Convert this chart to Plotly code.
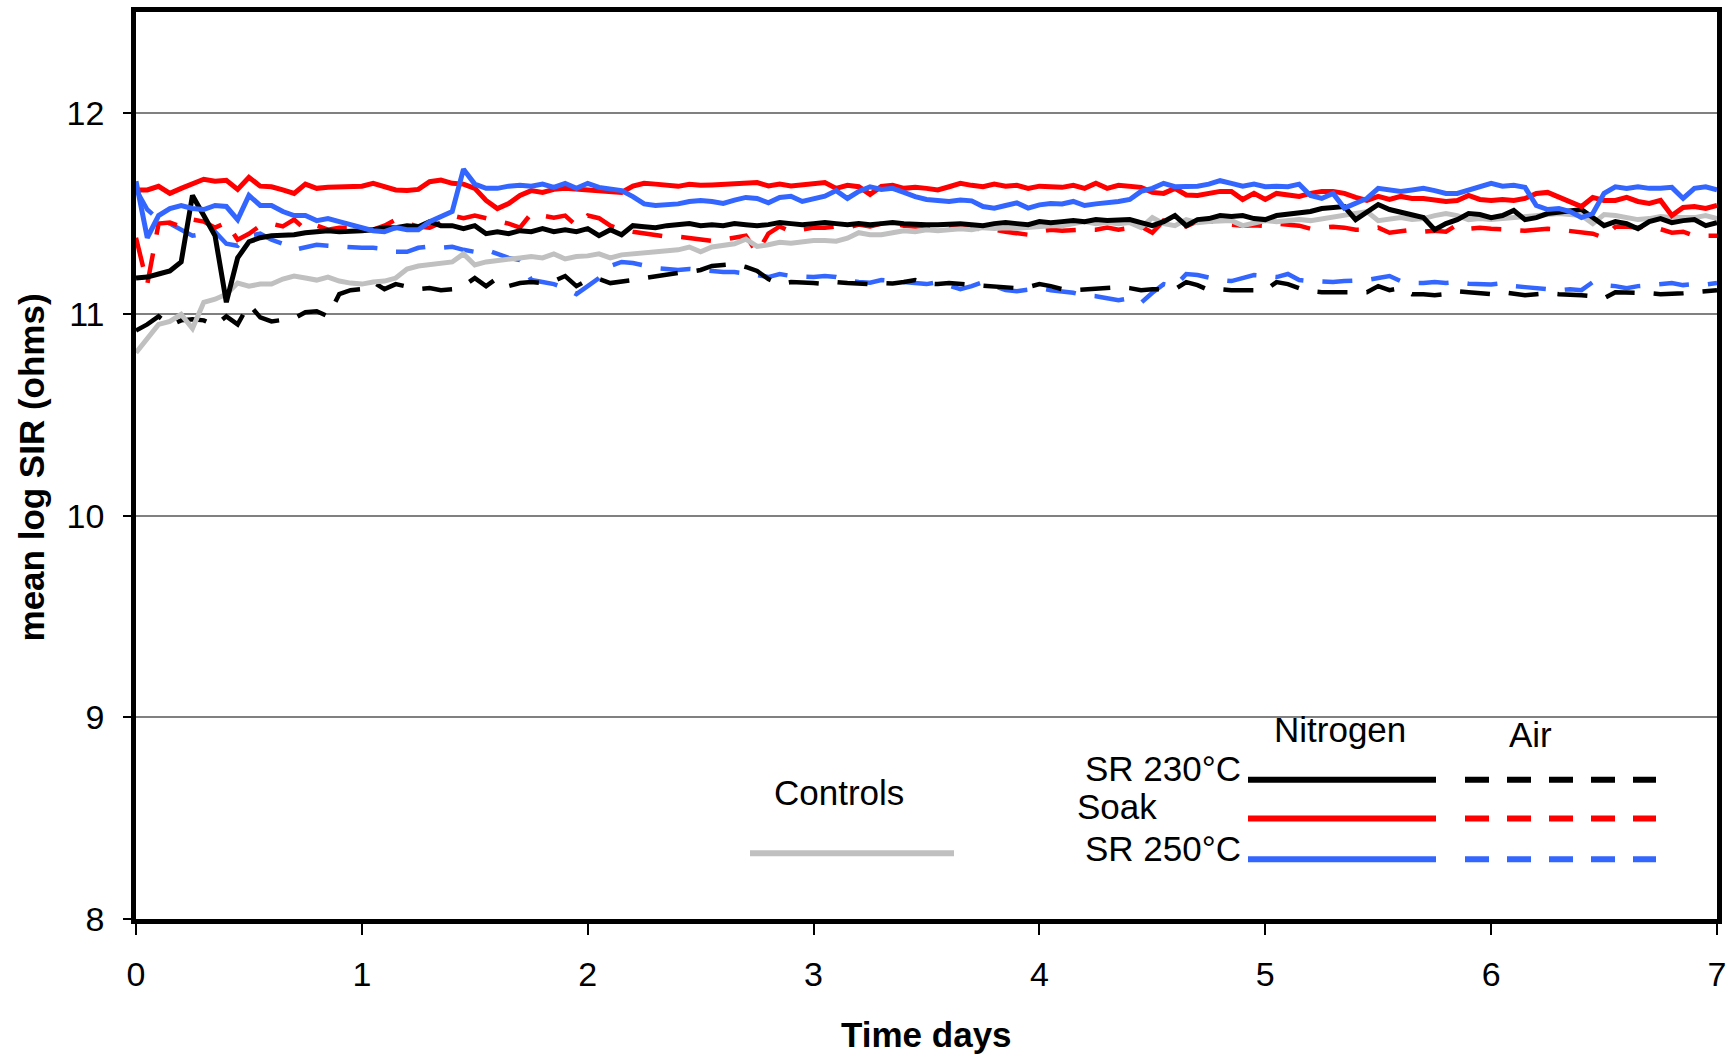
import plotly.graph_objects as go

# Readings were logged every 0.05 day over the 7-day exposure
DAYS = [round(i * 0.05, 2) for i in range(141)]

# mean log SIR (ohms) per condition, one row per ~1.15-day block
SR230_N2 = (
    [11.18, 11.185, 11.20, 11.215, 11.26, 11.59, 11.49, 11.39, 11.06, 11.28, 11.36, 11.38,
     11.39, 11.39, 11.395, 11.405, 11.41, 11.415, 11.41, 11.41, 11.415, 11.42, 11.43, 11.43]
    + [11.44, 11.435, 11.46, 11.44, 11.44, 11.425, 11.44, 11.40, 11.41, 11.40, 11.415, 11.41,
       11.425, 11.41, 11.42, 11.41, 11.425, 11.39, 11.42, 11.395, 11.44, 11.435, 11.43]
    + [11.44, 11.445, 11.45, 11.44, 11.445, 11.44, 11.45, 11.445, 11.44, 11.445, 11.455, 11.45,
       11.445, 11.45, 11.455, 11.45, 11.445, 11.45, 11.445, 11.45, 11.455, 11.45, 11.445, 11.445]
    + [11.445, 11.45, 11.45, 11.445, 11.44, 11.45, 11.455, 11.45, 11.445, 11.46, 11.455, 11.46,
       11.465, 11.46, 11.47, 11.465, 11.47, 11.47, 11.455, 11.44, 11.46, 11.49, 11.44]
    + [11.47, 11.475, 11.49, 11.485, 11.49, 11.475, 11.47, 11.49, 11.495, 11.50, 11.51, 11.525,
       11.53, 11.535, 11.47, 11.51, 11.545, 11.52, 11.505, 11.495, 11.48, 11.42, 11.45, 11.47]
    + [11.50, 11.495, 11.48, 11.49, 11.515, 11.47, 11.48, 11.50, 11.505, 11.515, 11.52, 11.48,
       11.44, 11.46, 11.45, 11.425, 11.46, 11.475, 11.455, 11.465, 11.47, 11.44, 11.455]
)

SR230_AIR = (
    [10.92, 10.95, 10.99, 10.945, 10.97, 10.975, 10.97, 10.945, 10.99, 10.95, 11.05, 10.985,
     10.965, 10.97, 10.98, 11.01, 11.015, 10.99, 11.10, 11.12, 11.125, 11.16, 11.125, 11.15]
    + [11.14, 11.125, 11.13, 11.12, 11.125, 11.14, 11.18, 11.14, 11.18, 11.14, 11.155, 11.16,
       11.155, 11.165, 11.19, 11.14, 11.17, 11.175, 11.155, 11.16, 11.17, 11.18, 11.19]
    + [11.20, 11.205, 11.21, 11.22, 11.24, 11.245, 11.25, 11.235, 11.215, 11.175, 11.15, 11.16,
       11.16, 11.155, 11.15, 11.16, 11.155, 11.15, 11.15, 11.155, 11.153, 11.16, 11.17, 11.153]
    + [11.15, 11.155, 11.15, 11.148, 11.14, 11.14, 11.135, 11.13, 11.135, 11.15, 11.14, 11.125,
       11.12, 11.125, 11.13, 11.13, 11.135, 11.13, 11.12, 11.125, 11.125, 11.125, 11.16]
    + [11.145, 11.12, 11.125, 11.12, 11.12, 11.12, 11.12, 11.16, 11.15, 11.13, 11.115, 11.11,
       11.108, 11.11, 11.11, 11.11, 11.14, 11.12, 11.13, 11.10, 11.10, 11.095, 11.10, 11.115]
    + [11.11, 11.105, 11.10, 11.11, 11.105, 11.095, 11.10, 11.105, 11.10, 11.10, 11.095, 11.09,
       11.08, 11.11, 11.11, 11.11, 11.105, 11.10, 11.10, 11.105, 11.11, 11.115, 11.12]
)

SOAK_N2 = (
    [11.617, 11.617, 11.635, 11.60, 11.625, 11.65, 11.67, 11.66, 11.665, 11.62, 11.68, 11.636,
     11.633, 11.617, 11.60, 11.646, 11.625, 11.63, 11.633, 11.636, 11.636, 11.65, 11.636, 11.617]
    + [11.614, 11.62, 11.658, 11.666, 11.65, 11.646, 11.625, 11.565, 11.525, 11.55, 11.59, 11.614,
       11.605, 11.62, 11.625, 11.62, 11.614, 11.614, 11.61, 11.605, 11.636, 11.65, 11.646]
    + [11.64, 11.635, 11.645, 11.64, 11.642, 11.645, 11.643, 11.646, 11.654, 11.637, 11.646, 11.637,
       11.643, 11.646, 11.654, 11.625, 11.64, 11.633, 11.595, 11.635, 11.64, 11.625, 11.63, 11.625]
    + [11.617, 11.633, 11.65, 11.64, 11.633, 11.646, 11.636, 11.64, 11.625, 11.636, 11.633, 11.63,
       11.64, 11.625, 11.65, 11.625, 11.64, 11.636, 11.63, 11.605, 11.60, 11.625, 11.592]
    + [11.59, 11.60, 11.61, 11.61, 11.57, 11.60, 11.57, 11.60, 11.59, 11.585, 11.60, 11.61,
       11.61, 11.60, 11.58, 11.565, 11.585, 11.57, 11.585, 11.575, 11.575, 11.565, 11.56, 11.565]
    + [11.59, 11.57, 11.565, 11.57, 11.565, 11.575, 11.60, 11.605, 11.58, 11.56, 11.535, 11.58,
       11.565, 11.565, 11.58, 11.56, 11.55, 11.565, 11.49, 11.53, 11.535, 11.525, 11.54]
)

SOAK_AIR = (
    [11.38, 11.15, 11.45, 11.455, 11.436, 11.47, 11.46, 11.43, 11.455, 11.37, 11.40, 11.44,
     11.45, 11.436, 11.47, 11.42, 11.44, 11.42, 11.43, 11.43, 11.42, 11.42, 11.44, 11.47]
    + [11.45, 11.436, 11.43, 11.455, 11.49, 11.477, 11.49, 11.477, 11.465, 11.45, 11.43, 11.50,
       11.49, 11.48, 11.49, 11.44, 11.49, 11.477, 11.44, 11.42, 11.41, 11.40, 11.39]
    + [11.385, 11.385, 11.38, 11.375, 11.365, 11.37, 11.38, 11.39, 11.305, 11.40, 11.436, 11.41,
       11.42, 11.43, 11.43, 11.436, 11.43, 11.445, 11.436, 11.45, 11.455, 11.44, 11.436, 11.44]
    + [11.436, 11.44, 11.43, 11.43, 11.42, 11.42, 11.41, 11.405, 11.395, 11.41, 11.42, 11.415,
       11.42, 11.42, 11.42, 11.43, 11.42, 11.43, 11.436, 11.405, 11.465, 11.45, 11.436]
    + [11.462, 11.465, 11.45, 11.445, 11.44, 11.442, 11.438, 11.45, 11.445, 11.44, 11.425, 11.43,
       11.435, 11.43, 11.42, 11.42, 11.43, 11.405, 11.41, 11.42, 11.41, 11.415, 11.41, 11.445]
    + [11.425, 11.43, 11.425, 11.42, 11.42, 11.415, 11.42, 11.425, 11.42, 11.415, 11.405, 11.40,
       11.38, 11.435, 11.436, 11.43, 11.44, 11.425, 11.405, 11.41, 11.39, 11.39, 11.39]
)

SR250_N2 = (
    [11.66, 11.38, 11.49, 11.525, 11.54, 11.525, 11.52, 11.54, 11.535, 11.47, 11.59, 11.54,
     11.54, 11.51, 11.49, 11.49, 11.465, 11.475, 11.46, 11.445, 11.435, 11.415, 11.41, 11.43]
    + [11.42, 11.42, 11.46, 11.485, 11.51, 11.72, 11.646, 11.625, 11.625, 11.636, 11.64, 11.636,
       11.646, 11.63, 11.65, 11.625, 11.65, 11.63, 11.625, 11.614, 11.584, 11.548, 11.54]
    + [11.543, 11.548, 11.56, 11.565, 11.56, 11.55, 11.567, 11.58, 11.575, 11.553, 11.58, 11.586,
       11.56, 11.575, 11.586, 11.614, 11.575, 11.61, 11.633, 11.62, 11.625, 11.605, 11.584, 11.57]
    + [11.567, 11.56, 11.567, 11.563, 11.535, 11.527, 11.54, 11.553, 11.527, 11.543, 11.55, 11.548,
       11.56, 11.54, 11.548, 11.553, 11.56, 11.57, 11.61, 11.625, 11.65, 11.633, 11.636]
    + [11.636, 11.646, 11.663, 11.65, 11.636, 11.646, 11.633, 11.636, 11.633, 11.646, 11.59, 11.575,
       11.60, 11.527, 11.548, 11.575, 11.625, 11.617, 11.61, 11.617, 11.625, 11.614, 11.60, 11.60]
    + [11.617, 11.636, 11.65, 11.636, 11.64, 11.63, 11.54, 11.52, 11.525, 11.51, 11.48, 11.50,
       11.60, 11.633, 11.625, 11.633, 11.625, 11.625, 11.63, 11.575, 11.625, 11.633, 11.617]
)

SR250_AIR = (
    [11.62, 11.52, 11.47, 11.45, 11.42, 11.39, 11.40, 11.41, 11.35, 11.34, 11.39, 11.40,
     11.37, 11.35, 11.32, 11.33, 11.345, 11.34, 11.335, 11.33, 11.33, 11.33, 11.325, 11.31]
    + [11.31, 11.33, 11.337, 11.33, 11.335, 11.32, 11.31, 11.32, 11.30, 11.28, 11.27, 11.17,
       11.16, 11.15, 11.13, 11.10, 11.14, 11.18, 11.24, 11.26, 11.255, 11.24, 11.23]
    + [11.225, 11.22, 11.225, 11.22, 11.21, 11.21, 11.21, 11.205, 11.195, 11.185, 11.20, 11.19,
       11.185, 11.185, 11.19, 11.185, 11.17, 11.16, 11.157, 11.17, 11.165, 11.16, 11.16, 11.15]
    + [11.16, 11.14, 11.125, 11.14, 11.16, 11.14, 11.12, 11.115, 11.125, 11.13, 11.12, 11.115,
       11.107, 11.094, 11.09, 11.08, 11.07, 11.08, 11.057, 11.107, 11.15, 11.14, 11.20]
    + [11.195, 11.18, 11.17, 11.165, 11.18, 11.195, 11.19, 11.185, 11.20, 11.17, 11.165, 11.16,
       11.16, 11.165, 11.165, 11.17, 11.18, 11.19, 11.165, 11.155, 11.155, 11.16, 11.155, 11.16]
    + [11.152, 11.15, 11.148, 11.155, 11.14, 11.135, 11.13, 11.125, 11.12, 11.125, 11.12, 11.16,
       11.145, 11.14, 11.13, 11.14, 11.145, 11.15, 11.155, 11.145, 11.15, 11.148, 11.155]
)

CONTROLS = (
    [10.81, 10.88, 10.95, 10.965, 11.00, 10.93, 11.06, 11.075, 11.10, 11.155, 11.14, 11.15,
     11.15, 11.175, 11.19, 11.18, 11.17, 11.185, 11.165, 11.155, 11.15, 11.16, 11.165, 11.18]
    + [11.225, 11.24, 11.245, 11.25, 11.26, 11.30, 11.245, 11.26, 11.265, 11.27, 11.28, 11.287,
       11.28, 11.30, 11.275, 11.287, 11.29, 11.30, 11.28, 11.295, 11.30, 11.305, 11.315]
    + [11.317, 11.32, 11.334, 11.31, 11.334, 11.344, 11.35, 11.373, 11.337, 11.345, 11.357, 11.353,
       11.36, 11.366, 11.366, 11.363, 11.378, 11.405, 11.395, 11.395, 11.405, 11.415, 11.41, 11.42]
    + [11.415, 11.42, 11.425, 11.42, 11.43, 11.426, 11.43, 11.427, 11.433, 11.436, 11.44, 11.44,
       11.45, 11.46, 11.45, 11.455, 11.45, 11.455, 11.43, 11.48, 11.45, 11.44, 11.47]
    + [11.455, 11.46, 11.46, 11.465, 11.44, 11.455, 11.465, 11.46, 11.465, 11.47, 11.465, 11.475,
       11.48, 11.49, 11.50, 11.51, 11.465, 11.475, 11.48, 11.47, 11.475, 11.49, 11.50, 11.49]
    + [11.47, 11.475, 11.47, 11.475, 11.48, 11.485, 11.49, 11.495, 11.50, 11.495, 11.49, 11.45,
       11.495, 11.49, 11.48, 11.47, 11.475, 11.485, 11.48, 11.478, 11.48, 11.49, 11.475]
)

Y_TICKS = [8, 9, 10, 11, 12]
X_TICKS = [0, 1, 2, 3, 4, 5, 6, 7]

for name, s in [("SR230_N2", SR230_N2), ("SR230_AIR", SR230_AIR), ("SOAK_N2", SOAK_N2),
                ("SOAK_AIR", SOAK_AIR), ("SR250_N2", SR250_N2), ("SR250_AIR", SR250_AIR),
                ("CONTROLS", CONTROLS)]:
    assert len(s) == len(DAYS), (name, len(s))

BLACK = "#000000"
RED = "#FF0000"
BLUE = "#3366FF"
GREY = "#C0C0C0"
FONT = "Liberation Sans, Arial, sans-serif"

DATA_DASH = "30px,19px"
KEY_DASH = "24px,18px"

fig = go.Figure()

series = [
    (SR250_AIR, BLUE, DATA_DASH, 4.5),
    (SR230_AIR, BLACK, DATA_DASH, 4.5),
    (SOAK_AIR, RED, DATA_DASH, 4.5),
    (CONTROLS, GREY, "solid", 5),
    (SR230_N2, BLACK, "solid", 5),
    (SOAK_N2, RED, "solid", 5),
    (SR250_N2, BLUE, "solid", 5),
]
for values, color, dash, width in series:
    fig.add_trace(go.Scatter(
        x=DAYS, y=values, mode="lines",
        line=dict(color=color, width=width, dash=dash),
        showlegend=False, hoverinfo="skip",
    ))

# Plot-area geometry in page pixels
L, R, T, B = 136, 1717, 7, 919
W, H = 1736, 1054


def px(x):
    return (x - L) / (R - L)


def py(y):
    return (B - y) / (B - T)


shapes = []
annotations = []

# Hand-built key: columns Nitrogen (solid) / Air (dashed), rows per treatment
key_rows = [
    ("SR 230°C", BLACK, 779),
    ("Soak", RED, 818),
    ("SR 250°C", BLUE, 859),
]
for label, color, y in key_rows:
    shapes.append(dict(type="line", xref="paper", yref="paper",
                       x0=px(1248), x1=px(1436), y0=py(y), y1=py(y),
                       line=dict(color=color, width=6)))
    shapes.append(dict(type="line", xref="paper", yref="paper",
                       x0=px(1465), x1=px(1656), y0=py(y), y1=py(y),
                       line=dict(color=color, width=6, dash=KEY_DASH)))

shapes.append(dict(type="line", xref="paper", yref="paper",
                   x0=px(750), x1=px(954), y0=py(853), y1=py(853),
                   line=dict(color=GREY, width=6)))

key_texts = [
    ("Nitrogen", 1340, 728, "center"),
    ("Air", 1530, 733, "center"),
    ("SR 230°C", 1243, 768, "right"),
    ("Soak", 1117, 806, "center"),
    ("SR 250°C", 1243, 848, "right"),
    ("Controls", 839, 792, "center"),
]
for text, x, y, anchor in key_texts:
    annotations.append(dict(text=text, xref="paper", yref="paper",
                            x=px(x), y=py(y), xanchor=anchor, yanchor="middle",
                            showarrow=False, font=dict(family=FONT, size=35, color=BLACK)))

annotations.append(dict(text="<b>Time days</b>", xref="paper", yref="paper",
                        x=px(926), y=py(1035), xanchor="center", yanchor="middle",
                        showarrow=False, font=dict(family=FONT, size=35, color=BLACK)))
annotations.append(dict(text="<b>mean log SIR (ohms)</b>", xref="paper", yref="paper",
                        x=px(31), y=py(465), xanchor="center", yanchor="middle",
                        textangle=-90, showarrow=False,
                        font=dict(family=FONT, size=35, color=BLACK)))

fig.update_layout(
    width=W, height=H,
    margin=dict(l=L, r=W - R, t=T, b=H - B),
    paper_bgcolor="white", plot_bgcolor="white",
    shapes=shapes, annotations=annotations,
    font=dict(family=FONT, color=BLACK),
    showlegend=False,
)
fig.update_xaxes(
    range=[0, 7], tickvals=X_TICKS, ticktext=[str(v) for v in X_TICKS],
    ticks="outside", ticklen=11, tickwidth=1.5, tickcolor=BLACK,
    showline=True, linewidth=4.5, linecolor=BLACK, mirror=True,
    showgrid=False, zeroline=False,
    tickfont=dict(family=FONT, size=34, color=BLACK), ticklabelstandoff=10,
)
fig.update_yaxes(
    range=[8, 12.5], tickvals=Y_TICKS, ticktext=[str(v) for v in Y_TICKS],
    ticks="outside", ticklen=8, tickwidth=1.5, tickcolor=BLACK,
    showline=True, linewidth=4.5, linecolor=BLACK, mirror=True,
    showgrid=True, gridcolor="#808080", gridwidth=1.5, zeroline=False,
    tickfont=dict(family=FONT, size=34, color=BLACK), ticklabelstandoff=12,
)

fig.write_html("out.html")
